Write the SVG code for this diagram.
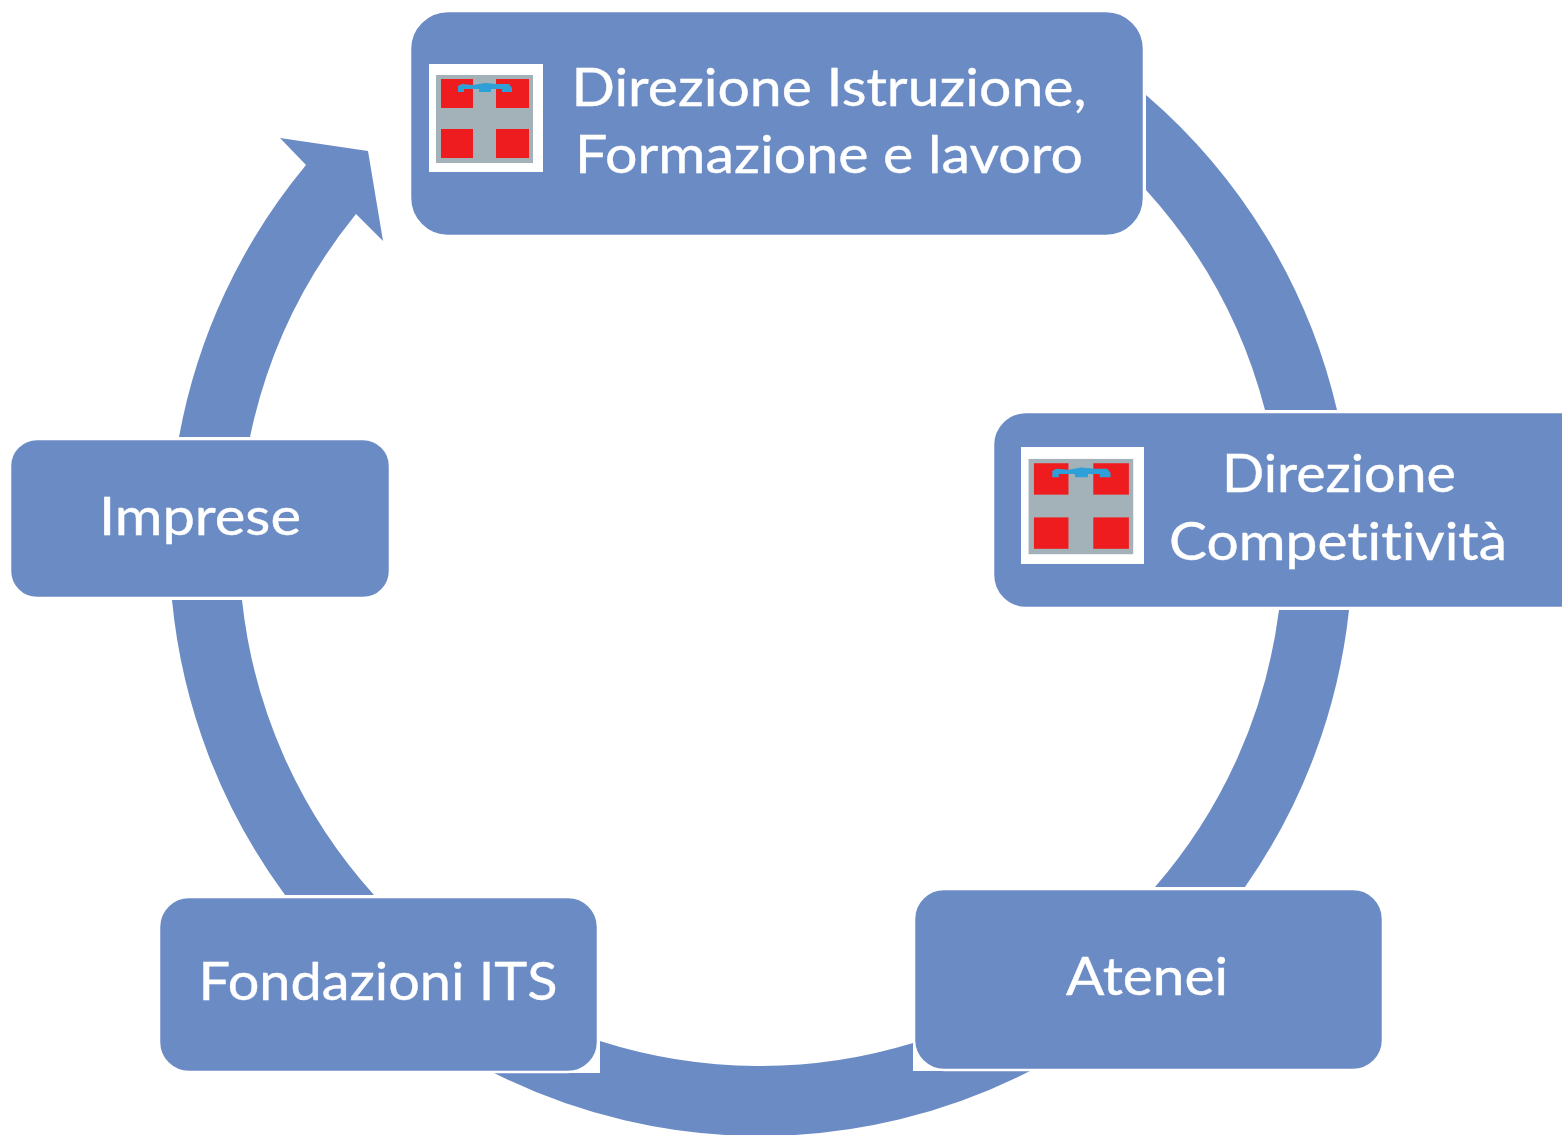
<svg xmlns="http://www.w3.org/2000/svg" width="1562" height="1135" viewBox="0 0 1562 1135">
<style>
.box{fill:#6b8bc4;stroke:#fff;stroke-width:2.5}
.ring{fill:#6b8bc4}
text{font-family:"Lato","Open Sans","Liberation Sans",sans-serif;font-size:53px;fill:#fff;text-anchor:middle;font-variant-ligatures:none;stroke:#fff;stroke-width:.4}
</style>
<defs>
<g id="logo">
<rect width="114" height="108" fill="#fff"/>
<rect x="7" y="11" width="97" height="88" fill="#a3b2b8"/>
<rect x="12" y="15" width="32" height="29" fill="#ee1c1e"/>
<rect x="67" y="15" width="33" height="29" fill="#ee1c1e"/>
<rect x="12" y="65" width="32" height="29" fill="#ee1c1e"/>
<rect x="67" y="65" width="33" height="29" fill="#ee1c1e"/>
<path d="M29 22L33 20L44 21L56 19L68 20L80 20L83 24V28H73V25H62V28H50V25H35V28H29Z" fill="#2f9fd8"/>
</g>
</defs>
<rect width="1562" height="1135" fill="#fff"/>
<g id="connectors">
<path class="ring" d="M1146 95A593 593 0 0 1 1337 410H1265A523 523 0 0 0 1146 190Z"/>
<path class="ring" d="M1349 610A593 593 0 0 1 1245 887H1155A523 523 0 0 0 1279 610Z"/>
<path class="ring" d="M1030 1071A593 593 0 0 1 494 1073H600V1041A523 523 0 0 0 913 1043V1071Z"/>
<path class="ring" d="M374 895H285A593 593 0 0 1 172 600H242A523 523 0 0 0 374 895Z"/>
<path class="ring" d="M179 437A593 593 0 0 1 306 165L280 138L368 151L383 241L356 214A523 523 0 0 0 250 437Z"/>
</g>
<g id="node-istruzione">
<rect class="box" x="410" y="11" width="734" height="225" rx="38"/>
<use href="#logo" x="429" y="64"/>
<text x="829" y="106" textLength="515" lengthAdjust="spacingAndGlyphs">Direzione Istruzione,</text>
<text x="829" y="173" textLength="508" lengthAdjust="spacingAndGlyphs">Formazione e lavoro</text>
</g>
<g id="node-competitivita">
<rect class="box" x="993" y="412" width="600" height="196" rx="33"/>
<use href="#logo" transform="translate(1021 447) scale(1.079 1.083)"/>
<text x="1339" y="492" textLength="234" lengthAdjust="spacingAndGlyphs">Direzione</text>
<text x="1338" y="560" textLength="338" lengthAdjust="spacingAndGlyphs">Competitività</text>
</g>
<g id="node-atenei">
<rect class="box" x="914" y="889" width="469" height="181" rx="30"/>
<text x="1147" y="995" textLength="162" lengthAdjust="spacingAndGlyphs">Atenei</text>
</g>
<g id="node-fondazioni">
<rect class="box" x="159" y="897" width="439" height="175" rx="30"/>
<text x="378" y="1000" textLength="359" lengthAdjust="spacingAndGlyphs">Fondazioni ITS</text>
</g>
<g id="node-imprese">
<rect class="box" x="10" y="439" width="380" height="159" rx="27"/>
<text x="200" y="535" textLength="202" lengthAdjust="spacingAndGlyphs">Imprese</text>
</g>
</svg>
